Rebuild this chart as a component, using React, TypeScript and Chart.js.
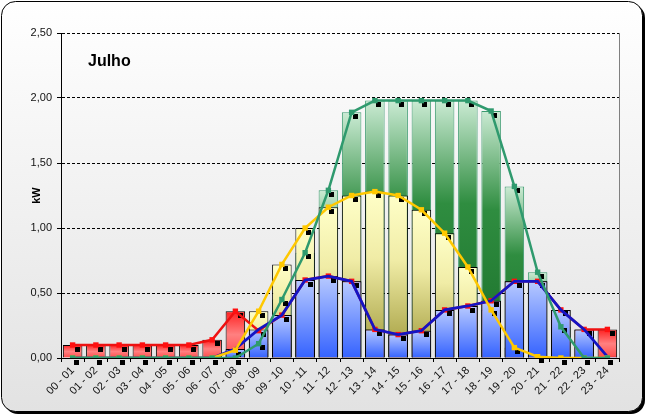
import React, { useEffect, useRef } from 'react';
import { Chart, registerables } from 'chart.js';

Chart.register(...registerables);

const categories = [
  '00 - 01', '01 - 02', '02 - 03', '03 - 04', '04 - 05', '05 - 06',
  '06 - 07', '07 - 08', '08 - 09', '09 - 10', '10 - 11', '11 - 12',
  '12 - 13', '13 - 14', '14 - 15', '15 - 16', '16 - 17', '17 - 18',
  '18 - 19', '19 - 20', '20 - 21', '21 - 22', '22 - 23', '23 - 24',
];
const greenValues = [0, 0, 0, 0, 0, 0, 0, 0, 0.11, 0.45, 0.81, 1.29, 1.89, 1.98, 1.98, 1.98, 1.98, 1.98, 1.9, 1.32, 0.66, 0.24, 0, 0];
const yellowValues = [0, 0, 0, 0, 0, 0, 0, 0.06, 0.36, 0.72, 1.0, 1.16, 1.25, 1.28, 1.25, 1.14, 0.96, 0.7, 0.37, 0.08, 0.01, 0, 0, 0];
const blueValues = [0, 0, 0, 0, 0, 0, 0, 0.07, 0.22, 0.33, 0.6, 0.63, 0.59, 0.22, 0.18, 0.21, 0.37, 0.4, 0.44, 0.59, 0.59, 0.37, 0.22, 0.01];
const redValues = [0.1, 0.1, 0.1, 0.1, 0.1, 0.1, 0.14, 0.36, 0.21, 0.33, 0.6, 0.63, 0.59, 0.22, 0.18, 0.21, 0.37, 0.4, 0.44, 0.59, 0.59, 0.37, 0.22, 0.22];
const yMin = 0;
const yMax = 2.5;
const yStep = 0.5;
const chartTitle = 'Julho';
const yAxisTitle = 'kW';

const FONT = "'Liberation Sans', Arial, sans-serif";

function barGradient(stops: [number, string][]) {
  return (ctx: any) => {
    const chart = ctx.chart;
    const fallback = stops[stops.length - 1][1];
    if (ctx.type !== 'data' || !chart.chartArea) return fallback;
    const ys = chart.scales.y;
    const v = ctx.raw as number;
    const top = ys.getPixelForValue(v);
    const bottom = ys.getPixelForValue(0);
    if (!isFinite(top) || !isFinite(bottom) || !(bottom - top > 0.5)) return fallback;
    const g = chart.ctx.createLinearGradient(0, top, 0, bottom);
    stops.forEach(([o, c]) => g.addColorStop(o, c));
    return g;
  };
}

function roundRectPath(ctx: CanvasRenderingContext2D, x: number, y: number, w: number, h: number, r: number) {
  ctx.beginPath();
  ctx.moveTo(x + r, y);
  ctx.lineTo(x + w - r, y);
  ctx.arcTo(x + w, y, x + w, y + r, r);
  ctx.lineTo(x + w, y + h - r);
  ctx.arcTo(x + w, y + h, x + w - r, y + h, r);
  ctx.lineTo(x + r, y + h);
  ctx.arcTo(x, y + h, x, y + h - r, r);
  ctx.lineTo(x, y + r);
  ctx.arcTo(x, y, x + r, y, r);
  ctx.closePath();
}

const framePlugin = {
  id: 'frame',
  beforeDraw(chart: any) {
    const { ctx, width, height } = chart;
    ctx.save();
    ctx.fillStyle = '#ffffff';
    ctx.fillRect(0, 0, width, height);
    roundRectPath(ctx, 4, 4, 641, 410, 14);
    ctx.fillStyle = '#000000';
    ctx.fill();
    roundRectPath(ctx, 1.5, 1.5, 641, 410, 14);
    const g = ctx.createLinearGradient(0, 2, 0, 412);
    g.addColorStop(0, '#ffffff');
    g.addColorStop(1, '#e2e2e2');
    ctx.fillStyle = g;
    ctx.fill();
    ctx.lineWidth = 1;
    ctx.strokeStyle = '#000000';
    ctx.stroke();
    ctx.restore();
  },
  beforeDatasetsDraw(chart: any) {
    const { ctx, chartArea } = chart;
    ctx.save();
    ctx.strokeStyle = '#808080';
    ctx.lineWidth = 1;
    ctx.beginPath();
    ctx.moveTo(Math.round(chartArea.right) + 0.5, chartArea.top);
    ctx.lineTo(Math.round(chartArea.right) + 0.5, chartArea.bottom);
    ctx.stroke();
    ctx.fillStyle = '#000000';
    ctx.font = `bold 16px ${FONT}`;
    ctx.textBaseline = 'alphabetic';
    ctx.textAlign = 'left';
    ctx.fillText(chartTitle, 88, 66);
    ctx.restore();
  },
};

const shadowPlugin = {
  id: 'markerShadow',
  beforeDatasetDraw(chart: any, args: any) {
    const ds = chart.data.datasets[args.index];
    if (ds.type !== 'line' || !ds.shadowOffset) return;
    const { ctx } = chart;
    const [dx, dy] = ds.shadowOffset;
    ctx.save();
    ctx.fillStyle = '#000000';
    args.meta.data.forEach((pt: any) => {
      ctx.fillRect(Math.round(pt.x + dx - 2.5), Math.round(pt.y + dy - 2.5), 5, 5);
    });
    ctx.restore();
  },
};

export default function App() {
  const canvasRef = useRef<HTMLCanvasElement | null>(null);

  useEffect(() => {
    document.body.style.margin = '0';
    const canvas = canvasRef.current;
    if (!canvas) return;

    const lineCommon = {
      type: 'line' as const,
      borderWidth: 2.5,
      tension: 0,
      pointStyle: 'rect',
      pointRadius: 3.8,
      pointBorderWidth: 0,
      fill: false,
    };
    const barCommon = {
      type: 'bar' as const,
      borderWidth: 1,
      grouped: false,
      categoryPercentage: 1,
      barPercentage: 0.84,
    };

    const chart = new Chart(canvas, {
      type: 'bar',
      data: {
        labels: categories,
        datasets: [
          {
            ...lineCommon,
            label: 'green line',
            data: greenValues,
            borderColor: '#2f9a6e',
            pointBackgroundColor: '#2f9a6e',
            pointBorderColor: '#2f9a6e',
            order: 1,
            shadowOffset: [3.5, 4],
          } as any,
          {
            ...lineCommon,
            label: 'yellow line',
            data: yellowValues,
            borderColor: '#ffc800',
            pointBackgroundColor: '#ffc800',
            pointBorderColor: '#ffc800',
            order: 2,
            shadowOffset: [3.5, 4],
          } as any,
          {
            ...lineCommon,
            label: 'blue line',
            data: blueValues,
            borderColor: '#1414c4',
            borderWidth: 2.8,
            pointRadius: 0,
            order: 3,
          } as any,
          {
            ...lineCommon,
            label: 'red line',
            data: redValues,
            borderColor: '#ee1111',
            pointBackgroundColor: '#ff1010',
            pointBorderColor: '#ff1010',
            order: 4,
            shadowOffset: [5, 4],
          } as any,
          {
            ...barCommon,
            label: 'blue bars',
            data: blueValues,
            borderColor: '#000000',
            backgroundColor: barGradient([[0, '#b8caff'], [1, '#3462ff']]),
            order: 5,
          } as any,
          {
            ...barCommon,
            label: 'red bars',
            data: redValues,
            borderColor: '#000000',
            backgroundColor: barGradient([[0, '#ff2020'], [0.5, '#ff8080'], [1, '#ff4848']]),
            order: 6,
          } as any,
          {
            ...barCommon,
            label: 'yellow bars',
            data: yellowValues,
            borderColor: '#000000',
            backgroundColor: barGradient([[0, '#ffffc8'], [0.4, '#f0eca6'], [1, '#9e9838']]),
            order: 7,
          } as any,
          {
            ...barCommon,
            label: 'green bars',
            data: greenValues,
            borderColor: '#3d9b70',
            backgroundColor: barGradient([[0, '#cbebd4'], [0.4, '#2f8d40'], [1, '#1b6f2a']]),
            order: 8,
          } as any,
        ],
      },
      options: {
        responsive: false,
        animation: false,
        devicePixelRatio: 1,
        layout: { padding: { top: 33, right: 29, left: 0, bottom: 0 } },
        plugins: {
          legend: { display: false },
          tooltip: { enabled: false },
          title: { display: false },
        },
        scales: {
          x: {
            offset: true,
            grid: {
              display: true,
              drawOnChartArea: false,
              drawTicks: true,
              tickLength: 4,
              color: '#000000',
              tickColor: '#000000',
              offset: true,
            },
            border: { display: true, color: '#000000', width: 1 },
            ticks: {
              autoSkip: false,
              minRotation: 45,
              maxRotation: 45,
              padding: 2,
              color: '#111111',
              font: { family: FONT, size: 11 },
            },
            afterFit: (s: any) => {
              s.height = 60;
            },
          },
          y: {
            min: yMin,
            max: yMax,
            ticks: {
              stepSize: yStep,
              padding: 5,
              color: '#111111',
              font: { family: FONT, size: 11 },
              callback: (v: any) => Number(v).toFixed(2).replace('.', ','),
            },
            grid: {
              color: (c: any) => (c.tick && c.tick.value === 0 ? 'rgba(0,0,0,0)' : '#000000'),
              tickColor: '#000000',
              tickLength: 4,
              lineWidth: 1,
            },
            border: { display: true, color: '#000000', width: 1, dash: [3, 2] },
            title: {
              display: true,
              text: yAxisTitle,
              color: '#000000',
              font: { family: FONT, size: 11, weight: 'bold' },
              padding: { top: 30, bottom: 0 },
            },
            afterFit: (s: any) => {
              s.width = 61;
            },
          },
        },
      },
      plugins: [framePlugin, shadowPlugin],
    } as any);

    return () => {
      chart.destroy();
    };
  }, []);

  return (
    <canvas
      ref={canvasRef}
      width={648}
      height={418}
      style={{ display: 'block', width: 648, height: 418 }}
    />
  );
}
